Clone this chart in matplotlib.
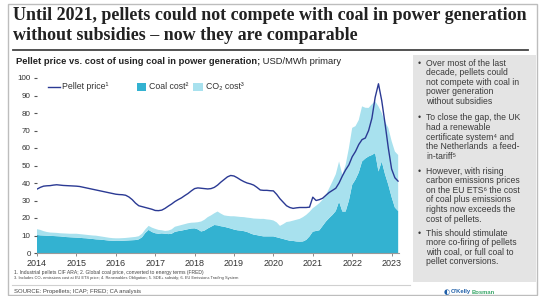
import matplotlib
matplotlib.use('Agg')
import matplotlib.pyplot as plt
import numpy as np
from matplotlib.lines import Line2D
from matplotlib.patches import Rectangle

# ---------------- data (monthly, Jan 2014 .. Mar 2023), USD/MWh primary ----------------
start_year = 2014
pellet = [36.5, 37.5, 38.2, 38.4, 38.5, 38.8, 39.0, 38.8, 38.6, 38.5, 38.4, 38.3,
          38.2, 38.0, 37.6, 37.2, 36.8, 36.4, 36.0, 35.6, 35.2, 34.8, 34.4, 34.0,
          33.6, 33.4, 33.3, 33.0, 32.0, 30.5, 28.5, 27.0, 26.5, 26.0, 25.5, 25.0,
          24.3, 24.2, 24.5, 25.5, 26.8, 28.0, 29.4, 30.5, 31.5, 32.8, 34.0, 35.5,
          36.8, 37.2, 37.0, 36.8, 36.6, 36.8, 37.5, 38.8, 40.5, 42.0, 43.5, 44.3,
          44.0, 43.0, 41.8, 40.8, 40.0, 39.5, 38.8, 37.5, 36.0, 35.8, 35.8, 35.6,
          35.5, 33.5, 31.0, 29.0, 27.0, 26.0, 25.5, 25.8, 26.0, 26.0, 26.0, 26.2,
          31.9, 30.0, 30.5, 31.3, 33.0, 34.6, 35.8, 37.0, 40.0, 44.0, 47.5, 50.4,
          55.0, 58.0, 62.0, 64.8, 65.7, 70.0, 77.0, 89.0, 96.7, 87.0, 74.0, 60.0,
          48.0, 43.0, 41.0]
coal = [10.3, 10.1, 10.0, 9.9, 9.8, 9.7, 9.6, 9.5, 9.3, 9.1, 9.0, 8.9,
        8.8, 8.7, 8.5, 8.4, 8.2, 8.0, 7.8, 7.7, 7.5, 7.3, 7.1, 7.0,
        6.9, 6.9, 7.0, 7.1, 7.2, 7.3, 7.4, 7.8, 9.0, 11.5, 13.2, 12.0,
        11.3, 11.0, 11.2, 11.0, 10.8, 11.0, 12.1, 12.5, 12.8, 13.2, 13.6, 14.0,
        14.1, 13.5, 12.3, 12.8, 14.0, 15.0, 16.0, 15.8, 15.3, 15.0, 14.5, 14.0,
        13.4, 13.0, 12.8, 12.5, 12.0, 11.2, 10.5, 10.2, 9.8, 9.5, 9.5, 9.5,
        9.5, 9.0, 8.5, 8.0, 7.5, 7.0, 6.9, 6.6, 6.5, 6.6, 7.5, 9.5,
        12.2, 12.6, 13.0, 15.5, 18.0, 20.0, 21.8, 24.0, 29.4, 23.7, 23.7, 30.0,
        39.0, 42.0, 46.0, 52.3, 54.0, 55.2, 56.0, 57.1, 46.6, 52.3, 45.0, 39.0,
        32.0, 26.0, 24.0]
co2 = [3.3, 3.1, 2.5, 2.1, 1.9, 1.9, 1.9, 1.8, 1.9, 2.0, 2.0, 2.1,
       2.2, 2.1, 2.1, 2.0, 2.0, 2.0, 2.1, 1.9, 1.8, 1.7, 1.6, 1.5,
       1.5, 1.5, 1.5, 1.5, 1.6, 1.7, 1.8, 1.8, 2.0, 2.0, 2.3, 2.5,
       2.5, 2.2, 1.8, 1.6, 2.0, 2.5, 2.9, 3.0, 3.2, 3.3, 3.4, 3.3,
       3.3, 4.1, 5.7, 6.2, 6.5, 6.5, 6.7, 7.9, 7.2, 6.5, 6.7, 7.0,
       7.6, 7.8, 7.8, 8.0, 8.2, 8.8, 9.2, 9.4, 9.7, 10.0, 9.7, 9.5,
       9.1, 8.5, 7.0, 8.5, 10.2, 11.0, 11.6, 12.4, 13.0, 13.9, 14.3, 14.0,
       13.4, 14.4, 15.5, 15.0, 15.2, 17.0, 19.1, 21.0, 22.9, 21.0, 26.7, 30.0,
       32.5, 30.5, 30.0, 31.5, 29.0, 27.7, 29.0, 29.6, 37.2, 27.7, 30.0, 32.5,
       32.0, 32.0, 32.0]
year_ticks = list(range(2014, 2024))
y_ticks = list(range(0, 101, 10))

title_lines = ["Until 2021, pellets could not compete with coal in power generation",
               "without subsidies \u2013 now they are comparable"]
subtitle_bold = "Pellet price vs. cost of using coal in power generation;"
subtitle_norm = " USD/MWh primary"
legend_labels = ["Pellet price\u00b9", "Coal cost\u00b2", "CO\u2082 cost\u00b3"]
footnotes = ["1. Industrial pellets CIF ARA; 2. Global coal price, converted to energy terms (FRED)",
             "3. Includes CO\u2082 emissions cost at EU ETS price; 4. Renewables Obligation; 5. SDE+ subsidy; 6. EU Emissions Trading System"]
source = "SOURCE: Propellets; ICAP; FRED; CA analysis"
bullets = [["Over most of the last", "decade, pellets could", "not compete with coal in",
            "power generation", "without subsidies"],
           ["To close the gap, the UK", "had a renewable", "certificate system\u2074 and",
            "the Netherlands  a feed-", "in-tariff\u2075"],
           ["However, with rising", "carbon emissions prices", "on the EU ETS\u2076 the cost",
            "of coal plus emissions", "rights now exceeds the", "cost of pellets."],
           ["This should stimulate", "more co-firing of pellets", "with coal, or full coal to",
            "pellet conversions."]]
logo_parts = ["O'Kelly", "Bosman"]

# ---------------- style ----------------
C_COAL = '#33B2D1'
C_CO2 = '#A8E1EE'
C_LINE = '#2B3A94'
C_TXT = '#222222'
FONT = ['Liberation Sans', 'DejaVu Sans']
plt.rcParams['font.family'] = FONT

W, H = 539, 296
fig = plt.figure(figsize=(W / 100, H / 100), dpi=100)
renderer = fig.canvas.get_renderer()


def fx(x):
    return x / W


def fy(y):
    return 1 - y / H


def fit(txt, target_w):
    bb = txt.get_window_extent(renderer)
    txt.set_fontsize(txt.get_fontsize() * target_w / bb.width)


# outer frame
fig.add_artist(Rectangle((fx(8), fy(295)), (537 - 8) / W, (295 - 4) / H, transform=fig.transFigure,
                         fill=False, edgecolor='#bdbdbd', lw=1.0))

# title
TF = ['Liberation Serif', 'DejaVu Serif']
t1 = fig.text(fx(13), fy(16), title_lines[0], fontsize=10, fontweight='bold',
              family=TF, color=C_TXT, va='center', ha='left')
fit(t1, 514)
t2 = fig.text(fx(13), fy(36), title_lines[1], fontsize=t1.get_fontsize(), fontweight='bold',
              family=TF, color=C_TXT, va='center', ha='left')
fig.add_artist(Line2D([fx(13), fx(528)], [fy(49.5), fy(49.5)], transform=fig.transFigure,
                      color='#444444', lw=1.3))

# subtitle (both parts same size; total width fitted)
sfs = 6.5
s1 = fig.text(fx(16), fy(62), subtitle_bold, fontsize=sfs, fontweight='bold', color=C_TXT,
              va='center', ha='left')
s2 = fig.text(0, fy(62), subtitle_norm, fontsize=sfs, color=C_TXT, va='center', ha='left')
wtot = s1.get_window_extent(renderer).width + s2.get_window_extent(renderer).width
sfs = sfs * 324 / wtot
s1.set_fontsize(sfs)
s2.set_fontsize(sfs)
bb = s1.get_window_extent(renderer)
s2.set_x(bb.x1 / W)

# ---------------- chart ----------------
ax = fig.add_axes([fx(37), fy(253), (399 - 37) / W, (253 - 78) / H])
t = start_year + np.arange(len(pellet)) / 12.0
ax.stackplot(t, np.array(coal), np.array(co2), colors=[C_COAL, C_CO2], linewidth=0)
ax.plot(t, pellet, color=C_LINE, lw=1.0, solid_capstyle='round')
ax.set_xlim(2014, 2014 + (399 - 37) / 39.4)
ax.set_ylim(0, 100)
ax.set_xticks(year_ticks)
ax.set_xticklabels([str(y) for y in year_ticks])
ax.set_yticks(y_ticks)
for s in ['top', 'right', 'left']:
    ax.spines[s].set_visible(False)
ax.spines['bottom'].set_color('#9a9a9a')
ax.spines['bottom'].set_linewidth(0.8)
ax.tick_params(axis='y', length=2.5, width=0.8, color='#555555', labelsize=5.8, labelcolor='#333333', pad=2)
ax.tick_params(axis='x', length=2.5, width=0.6, color='#777777', labelsize=6.5, labelcolor='#333333', pad=1.5)

# legend (manual)
ly = fy(87)
fig.add_artist(Line2D([fx(48), fx(60)], [ly, ly], transform=fig.transFigure, color=C_LINE, lw=1.0))
l1 = fig.text(fx(62), ly, legend_labels[0], fontsize=5.5, color='#333333', va='center', ha='left')
fit(l1, 47)
fig.add_artist(Rectangle((fx(137), fy(91)), 9 / W, 8 / H, transform=fig.transFigure,
                         facecolor=C_COAL, edgecolor='none'))
l2 = fig.text(fx(149), ly, legend_labels[1], fontsize=l1.get_fontsize(), color='#333333', va='center', ha='left')
fig.add_artist(Rectangle((fx(193), fy(91)), 10 / W, 8 / H, transform=fig.transFigure,
                         facecolor=C_CO2, edgecolor='none'))
l3 = fig.text(fx(206), ly, legend_labels[2], fontsize=l1.get_fontsize(), color='#333333', va='center', ha='left')

# footnotes
f1 = fig.text(fx(14), fy(272.5), footnotes[0], fontsize=3.5, color='#444444', va='center', ha='left')
fit(f1, 190)
f2 = fig.text(fx(14), fy(278.5), footnotes[1], fontsize=3.5, color='#444444', va='center', ha='left')
fit(f2, 229)
fig.add_artist(Line2D([fx(12), fx(410)], [fy(284.5), fy(284.5)], transform=fig.transFigure,
                      color='#d0d0d0', lw=0.8))
so = fig.text(fx(14), fy(291.5), source, fontsize=4.5, color='#444444', va='center', ha='left')
fit(so, 128)

# ---------------- right panel ----------------
fig.add_artist(Rectangle((fx(413), fy(282)), (536 - 413) / W, (282 - 55) / H, transform=fig.transFigure,
                         facecolor='#e4e4e4', edgecolor='none', zorder=0))
probe = fig.text(0, 0, "carbon emissions prices", fontsize=6)
fit(probe, 94)
bfs = probe.get_fontsize()
probe.remove()
starts = [63, 118, 171, 233]
lh = 9.6
for blk, y0 in zip(bullets, starts):
    fig.text(fx(418), fy(y0), "\u2022", fontsize=bfs, color='#3a3a3a', va='center', ha='left')
    for i, line in enumerate(blk):
        fig.text(fx(426), fy(y0 + i * lh), line, fontsize=bfs, color='#3a3a3a', va='center', ha='left')

# logo
lg0 = fig.text(fx(444), fy(292), "\u25d0", fontsize=5, color='#1f5fa8', va='center', ha='left',
               family=['DejaVu Sans'])
lg1 = fig.text(fx(451), fy(292), logo_parts[0], fontsize=4.2, fontweight='bold',
               color='#1f5fa8', va='center', ha='left')
bb = lg1.get_window_extent(renderer)
lg2 = fig.text(bb.x1 / W + 0.001, fy(292), logo_parts[1], fontsize=4.2, fontweight='bold',
               color='#3aa86a', va='center', ha='left')

fig.savefig('out.png', dpi=100)
